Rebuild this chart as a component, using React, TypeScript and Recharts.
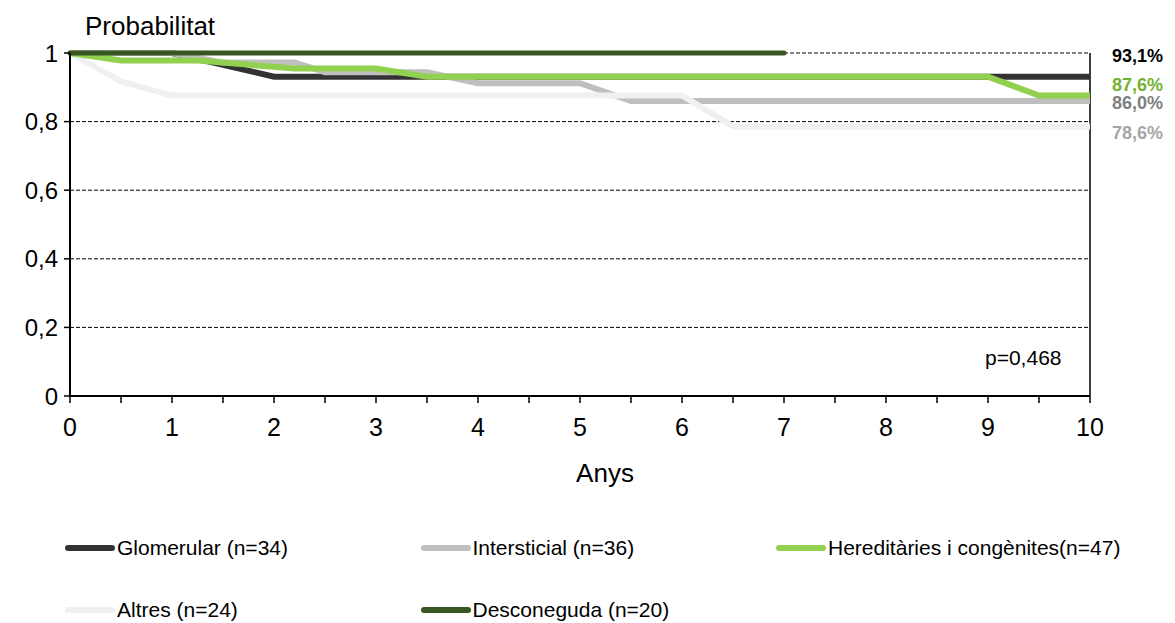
import { CartesianGrid, Line, LineChart, ReferenceLine, XAxis, YAxis } from 'recharts'

// survival points: [years, probability]
const glomerular = [[0, 1], [1, 1], [2, 0.931], [10, 0.931]]
const intersticial = [[0, 1], [1, 1], [1.5, 0.972], [2.2, 0.972], [2.5, 0.944], [3.5, 0.944], [4, 0.912], [5, 0.912], [5.5, 0.86], [10, 0.86]]
const hereditaries = [[0, 1], [0.5, 0.978], [1.25, 0.978], [2.2, 0.955], [3, 0.955], [3.5, 0.931], [9, 0.931], [9.5, 0.876], [10, 0.876]]
const altres = [[0, 1], [0.5, 0.917], [1, 0.876], [6, 0.876], [6.5, 0.786], [10, 0.786]]
const desconeguda = [[0, 1], [7, 1]]

const seriesNames = ['Glomerular (n=34)', 'Intersticial (n=36)', 'Hereditàries i congènites(n=47)', 'Altres (n=24)', 'Desconeguda (n=20)']
const xTicks = [0, 0.5, 1, 1.5, 2, 2.5, 3, 3.5, 4, 4.5, 5, 5.5, 6, 6.5, 7, 7.5, 8, 8.5, 9, 9.5, 10]
const yTicks = [0, 0.2, 0.4, 0.6, 0.8, 1]
const pValue = 'p=0,468'

const FONT = '"Liberation Sans", Arial, sans-serif'

const toRows = (pts: number[][]) => pts.map(([t, p]) => ({ t, p }))
const pct = (v: number) => `${(v * 100).toFixed(1).replace('.', ',')}%`

interface Serie {
  name: string
  points: number[][]
  color: string
  width: number
  cap?: 'round' | 'butt'
  tagColor?: string
  tagDy?: number
}

const byName: Record<string, Serie> = {
  [seriesNames[0]]: { name: seriesNames[0], points: glomerular, color: '#333333', width: 6, tagColor: '#000000', tagDy: -21 },
  [seriesNames[1]]: { name: seriesNames[1], points: intersticial, color: '#bfbfbf', width: 6, tagColor: '#808080', tagDy: 1.5 },
  [seriesNames[2]]: { name: seriesNames[2], points: hereditaries, color: '#92d050', width: 6, tagColor: '#72b232', tagDy: -11.5 },
  [seriesNames[3]]: { name: seriesNames[3], points: altres, color: '#f0f0f0', width: 6, tagColor: '#a6a6a6', tagDy: 6 },
  [seriesNames[4]]: { name: seriesNames[4], points: desconeguda, color: '#375623', width: 5, cap: 'round' },
}

// draw order matters: later lines sit on top
const drawOrder = [0, 1, 3, 2, 4].map((i) => byName[seriesNames[i]])

function endTag(s: Serie) {
  return (props: any) => {
    const { x, y, index } = props
    if (!s.tagColor || index !== s.points.length - 1) return null
    return (
      <text
        key={s.name}
        x={x + 22}
        y={y + (s.tagDy ?? 0)}
        dy="0.36em"
        fill={s.tagColor}
        fontSize={18}
        fontWeight="bold"
        fontFamily={FONT}
      >
        {pct(s.points[index][1])}
      </text>
    )
  }
}

export default function App() {
  return (
    <div style={{ position: 'fixed', left: 0, top: 0, width: 1175, height: 623, overflow: 'hidden', background: '#fff', fontFamily: FONT, color: '#000' }}>
      <LineChart width={1175} height={623} margin={{ top: 53, right: 85, bottom: 197, left: 10 }}>
        <CartesianGrid vertical={false} stroke="#000" strokeDasharray="4 2" />
        <XAxis
          dataKey="t"
          type="number"
          domain={[0, 10]}
          ticks={xTicks}
          interval={0}
          allowDecimals
          tickFormatter={(v) => (Number.isInteger(v) ? String(v) : '')}
          tick={{ fill: '#000', fontSize: 25, fontFamily: FONT }}
          axisLine={{ stroke: '#000', strokeWidth: 2 }}
          tickLine={{ stroke: '#000', strokeWidth: 1.5 }}
          tickSize={7}
          tickMargin={15}
          height={30}
        />
        <YAxis
          domain={[0, 1]}
          ticks={yTicks}
          interval={0}
          tickFormatter={(v) => String(v).replace('.', ',')}
          tick={{ fill: '#000', fontSize: 24, fontFamily: FONT }}
          axisLine={{ stroke: '#000', strokeWidth: 2 }}
          tickLine={{ stroke: '#000', strokeWidth: 1.5 }}
          tickSize={6}
          tickMargin={6}
          width={60}
        />
        <ReferenceLine x={10} stroke="#000" strokeWidth={1.5} />
        {drawOrder.map((s) => (
          <Line
            key={s.name}
            data={toRows(s.points)}
            dataKey="p"
            name={s.name}
            type="linear"
            stroke={s.color}
            strokeWidth={s.width}
            strokeLinecap={s.cap ?? 'butt'}
            dot={false}
            activeDot={false}
            isAnimationActive={false}
            label={endTag(s)}
          />
        ))}
      </LineChart>

      <div style={{ position: 'absolute', left: 85, top: 13, fontSize: 26, lineHeight: '26px' }}>Probabilitat</div>
      <div style={{ position: 'absolute', left: 505, width: 200, textAlign: 'center', top: 460, fontSize: 26, lineHeight: '26px' }}>Anys</div>
      <div style={{ position: 'absolute', left: 985, top: 347, fontSize: 21, lineHeight: '21px' }}>{pValue}</div>

      {seriesNames.map((name, i) => {
        const s = byName[name]
        const col = i % 3
        const row = Math.floor(i / 3)
        return (
          <div
            key={name}
            style={{ position: 'absolute', left: 65 + col * 355.5, top: 536 + row * 62, height: 24, display: 'flex', alignItems: 'center', fontSize: 21, lineHeight: '24px', whiteSpace: 'nowrap' }}
          >
            <span style={{ display: 'inline-block', width: 50, height: 6, borderRadius: 3, background: s.color, marginRight: 2 }} />
            {name}
          </div>
        )
      })}
    </div>
  )
}
